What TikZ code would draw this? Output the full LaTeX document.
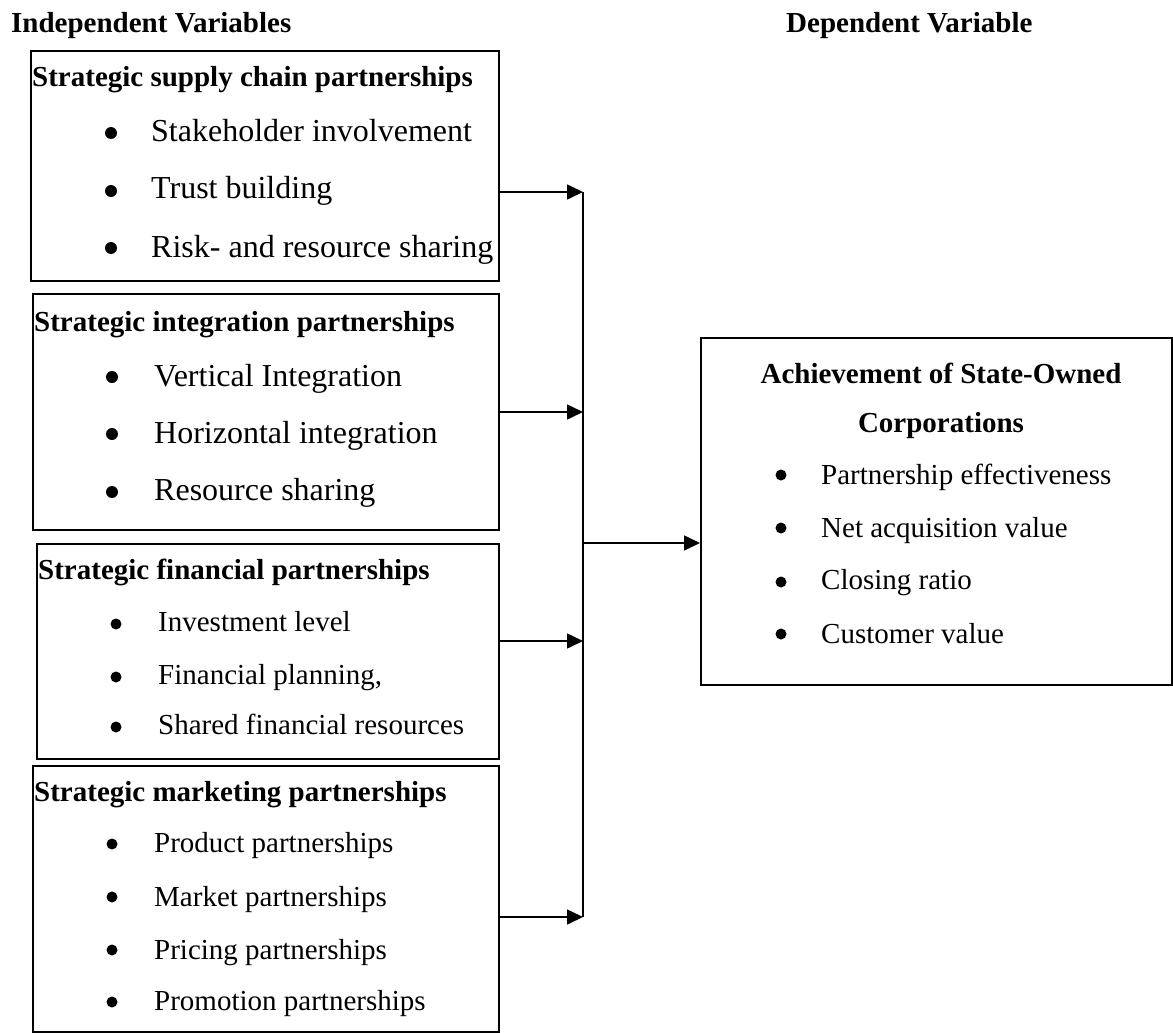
\documentclass[tikz,border=0pt]{standalone}
\usepackage{fontspec}
\setmainfont{Liberation Serif}
\usetikzlibrary{arrows.meta}
\newcommand\ttlfont{\fontsize{29}{35}\selectfont\bfseries}
\newcommand\bigitem{\fontsize{32}{38}\selectfont}
\newcommand\smallitem{\fontsize{29}{35}\selectfont}
\begin{document}
\begin{tikzpicture}[x=1pt,y=-1pt,
  box/.style={draw, line width=1.8pt, inner sep=0pt, anchor=north west},
  txt/.style={anchor=base west, inner sep=0pt},
  ctxt/.style={anchor=base, inner sep=0pt},
  bul/.style={fill=black},
  arr/.style={line width=1.6pt, -{Triangle[length=16pt,width=15pt]}},
  bus/.style={line width=1.4pt}]
\useasboundingbox (0,0) rectangle (1173,1033);
% headers
\node[txt,font=\ttlfont] (h1) at (11,33) {Independent Variables};
\node[txt,font=\ttlfont] (h2) at (786,33) {Dependent Variable};
% boxes
\node[box, minimum width=468pt, minimum height=230pt] (b1) at (30,50) {};
\node[box, minimum width=466pt, minimum height=236pt] (b2) at (32,293) {};
\node[box, minimum width=462pt, minimum height=215pt] (b3) at (36,543) {};
\node[box, minimum width=466pt, minimum height=266pt] (b4) at (32,765) {};
\node[box, minimum width=471pt, minimum height=347pt] (dep) at (700,337) {};
% box 1
\node[txt,font=\ttlfont] (t1) at (32,87) {Strategic supply chain partnerships};
\node[txt,font=\bigitem] (i11) at (151,141) {Stakeholder involvement};
\node[txt,font=\bigitem] (i12) at (151,198) {Trust building};
\node[txt,font=\bigitem] (i13) at (151,257) {Risk- and resource sharing};
\fill[bul] (111,133) circle (6) (111,191) circle (6) (111,248) circle (6);
% box 2
\node[txt,font=\ttlfont] (t2) at (34,331) {Strategic integration partnerships};
\node[txt,font=\bigitem] (i21) at (154,386) {Vertical Integration};
\node[txt,font=\bigitem] (i22) at (154,443) {Horizontal integration};
\node[txt,font=\bigitem] (i23) at (154,500) {Resource sharing};
\fill[bul] (112,377) circle (6) (112,434) circle (6) (112,492) circle (6);
% box 3
\node[txt,font=\ttlfont] (t3) at (38,579) {Strategic financial partnerships};
\node[txt,font=\smallitem] (i31) at (158,631) {Investment level};
\node[txt,font=\smallitem] (i32) at (158,684) {Financial planning,};
\node[txt,font=\smallitem] (i33) at (158,734) {Shared financial resources};
\fill[bul] (116,624) circle (5.5) (116,677) circle (5.5) (116,727) circle (5.5);
% box 4
\node[txt,font=\ttlfont] (t4) at (34,801) {Strategic marketing partnerships};
\node[txt,font=\smallitem] (i41) at (154,852) {Product partnerships};
\node[txt,font=\smallitem] (i42) at (154,906) {Market partnerships};
\node[txt,font=\smallitem] (i43) at (154,959) {Pricing partnerships};
\node[txt,font=\smallitem] (i44) at (154,1010) {Promotion partnerships};
\fill[bul] (112,844) circle (5.5) (112,897) circle (5.5) (112,950) circle (5.5) (112,1002) circle (5.5);
% dependent box
\node[ctxt,font=\ttlfont] (dt1) at (941,383) {Achievement of State-Owned};
\node[ctxt,font=\ttlfont] (dt2) at (941,432) {Corporations};
\node[txt,font=\smallitem] (d1) at (821,484) {Partnership effectiveness};
\node[txt,font=\smallitem] (d2) at (821,537) {Net acquisition value};
\node[txt,font=\smallitem] (d3) at (821,589) {Closing ratio};
\node[txt,font=\smallitem] (d4) at (821,643) {Customer value};
\fill[bul] (781,475) circle (5.5) (781,528) circle (5.5) (781,582) circle (5.5) (781,634) circle (5.5);
% connectors
\coordinate (j1) at (583,192);
\coordinate (j2) at (583,412);
\coordinate (j3) at (583,641);
\coordinate (j4) at (583,917);
\coordinate (jm) at (583,543);
\draw[arr] (b1.east |- j1) -- (j1);
\draw[arr] (b2.east |- j2) -- (j2);
\draw[arr] (b3.east |- j3) -- (j3);
\draw[arr] (b4.east |- j4) -- (j4);
\draw[bus] (j1) -- (j4);
\draw[arr] (jm) -- (dep.west |- jm);
\end{tikzpicture}
\end{document}
